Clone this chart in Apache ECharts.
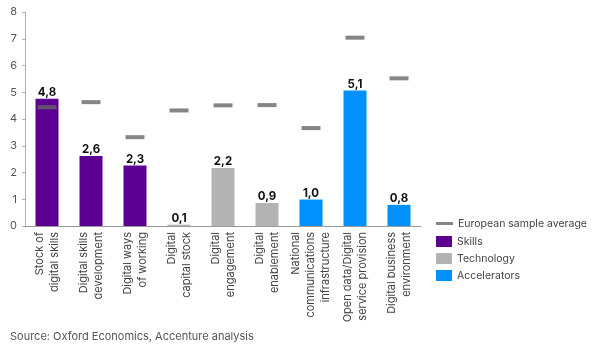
<!DOCTYPE html>
<html><head><meta charset="utf-8">
<script src="https://cdn.jsdelivr.net/npm/echarts@6/dist/echarts.min.js"></script>
<style>html,body{margin:0;padding:0;background:#fff}#c{width:593px;height:349px}</style>
</head><body><div id="c"></div>
<script>
const categories = ["Stock of\ndigital skills","Digital skills\ndevelopment","Digital ways\nof working","Digital\ncapital stock","Digital\nengagement","Digital\nenablement","National\ncommunications\ninfrastructure","Open data/Digital\nservice provision","Digital business\nenvironment"];
const scoreValues = [4.76, 2.62, 2.26, 0.05, 2.17, 0.86, 0.99, 5.07, 0.79];
const scoreGroups = ["Skills","Skills","Skills","Technology","Technology","Technology","Accelerators","Accelerators","Accelerators"];
const europeanAverage = [4.44, 4.63, 3.32, 4.32, 4.51, 4.52, 3.66, 7.04, 5.52];
const groupNames = ["Skills","Technology","Accelerators"];
const groupColors = {"Skills":"#5c0091","Technology":"#b3b3b3","Accelerators":"#0091ff"};
const yTicks = [0,1,2,3,4,5,6,7,8];

const FONT = "Inter, 'DejaVu Sans', sans-serif";
const barSeries = groupNames.map(g => ({
  name: g, type: 'bar', stack: 'score', barWidth: 23,
  itemStyle: {color: groupColors[g]},
  data: scoreValues.map((v,i) => scoreGroups[i] === g ? v : '-'),
  label: {show: true, position: 'top', distance: 0, color: '#111', fontWeight: 'bold', fontSize: 11.5, fontFamily: FONT,
    formatter: p => p.value.toFixed(1).replace('.', ',')},
  z: 2
}));
const chart = echarts.init(document.getElementById('c'));
chart.setOption({
  animation: false,
  grid: {left: 25, right: 172, top: 12, bottom: 123},
  xAxis: {type: 'category', data: categories,
    axisLine: {lineStyle: {color: '#9a9a9a'}}, axisTick: {show: false},
    axisLabel: {rotate: 90, interval: 0, color: '#444', fontSize: 11, fontFamily: FONT, lineHeight: 15, margin: 6}},
  yAxis: {type: 'value', min: yTicks[0], max: yTicks[yTicks.length-1], interval: 1,
    splitLine: {show: false},
    axisLine: {show: true, lineStyle: {color: '#b0b0b0'}},
    axisTick: {show: true, length: 3, lineStyle: {color: '#b0b0b0'}},
    axisLabel: {color: '#555', fontSize: 11, fontFamily: FONT, margin: 8}},
  legend: [
    {data: ['European sample average'], left: 436, top: 218, itemWidth: 17, itemHeight: 3, icon: 'rect', padding: 0,
      textStyle: {color: '#444', fontSize: 10.5, fontFamily: FONT}, itemGap: 4},
    {data: groupNames, orient: 'vertical', left: 436, top: 236, itemWidth: 16, itemHeight: 11, icon: 'rect', itemGap: 6, padding: 0,
      textStyle: {color: '#444', fontSize: 10.5, fontFamily: FONT}}
  ],
  series: [...barSeries, {
    name: 'European sample average', type: 'scatter', symbol: 'rect', symbolSize: [19,4],
    itemStyle: {color: '#666666'}, data: europeanAverage, z: 5
  }],
  graphic: [{type: 'text', left: 10, top: 331, style: {text: 'Source: Oxford Economics, Accenture analysis', fill: '#555', fontSize: 11, fontFamily: FONT}}]
});
</script></body></html>
